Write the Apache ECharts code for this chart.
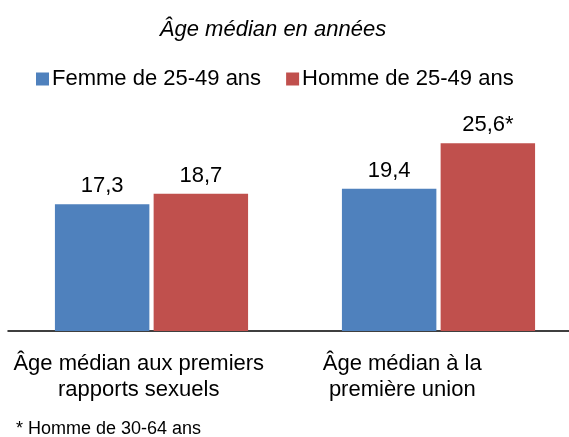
<!DOCTYPE html>
<html><head><meta charset="utf-8">
<script src="https://cdn.jsdelivr.net/npm/echarts@6/dist/echarts.min.js"></script>
<style>html,body{margin:0;padding:0;background:#fff}#c{width:569px;height:437px}</style>
</head><body><div id="c"></div>
<script>
const categories = ['Âge médian aux premiers\nrapports sexuels', 'Âge médian à la\npremière union'];
const femmeValues = [17.3, 19.4];
const hommeValues = [18.7, 25.6];
const hommeLabels = ['18,7', '25,6*'];
const femmeLabels = ['17,3', '19,4'];
const seriesNames = ['Femme de 25-49 ans', 'Homme de 25-49 ans'];
const titleText = 'Âge médian en années';
const footnote = '* Homme de 30-64 ans';

const F = 'Liberation Sans, Arial, sans-serif';
const chart = echarts.init(document.getElementById('c'));
chart.setOption({
  animation: false,
  title: { text: titleText, left: 268, textAlign: 'center', top: 14,
    textStyle: { fontFamily: F, fontSize: 22, fontStyle: 'italic', fontWeight: 'normal', color: '#000' } },
  legend: { data: seriesNames, top: 63, left: 31, itemWidth: 13, itemHeight: 13, itemGap: 25,
    icon: 'rect', textStyle: { fontFamily: F, fontSize: 22, color: '#000', padding: [0,0,0,-2] } },
  graphic: [{ type: 'text', left: 16, top: 420, style: { text: footnote, font: '18px ' + F, fill: '#000' } }],
  grid: [
    { left: 8, right: -13, top: 111, height: 220, outerBoundsMode: 'none' },
    { left: 7, width: 527, top: 111, height: 220, outerBoundsMode: 'none' }
  ],
  xAxis: [
    { type: 'category', gridIndex: 0, data: categories, axisLine: { lineStyle: { color: '#000', width: 1.5 } },
      axisTick: { show: false }, axisLabel: { show: false } },
    { type: 'category', gridIndex: 1, data: categories, axisLine: { show: false }, axisTick: { show: false },
      axisLabel: { fontFamily: F, fontSize: 22, color: '#000', lineHeight: 26, margin: 20, interval: 0 } }
  ],
  yAxis: [
    { type: 'value', gridIndex: 0, min: 0, max: 30, show: false },
    { type: 'value', gridIndex: 1, min: 0, max: 30, show: false }
  ],
  series: [
    { name: seriesNames[0], type: 'bar', data: femmeValues, barCategoryGap: '32.7%', barGap: '4.5%',
      itemStyle: { color: '#4F81BD' },
      label: { show: true, position: 'top', distance: 7, fontFamily: F, fontSize: 22, color: '#000',
        formatter: p => femmeLabels[p.dataIndex] } },
    { name: seriesNames[1], type: 'bar', data: hommeValues,
      itemStyle: { color: '#C0504D' },
      label: { show: true, position: 'top', distance: 7, fontFamily: F, fontSize: 22, color: '#000',
        formatter: p => hommeLabels[p.dataIndex] } }
  ]
});
</script></body></html>
